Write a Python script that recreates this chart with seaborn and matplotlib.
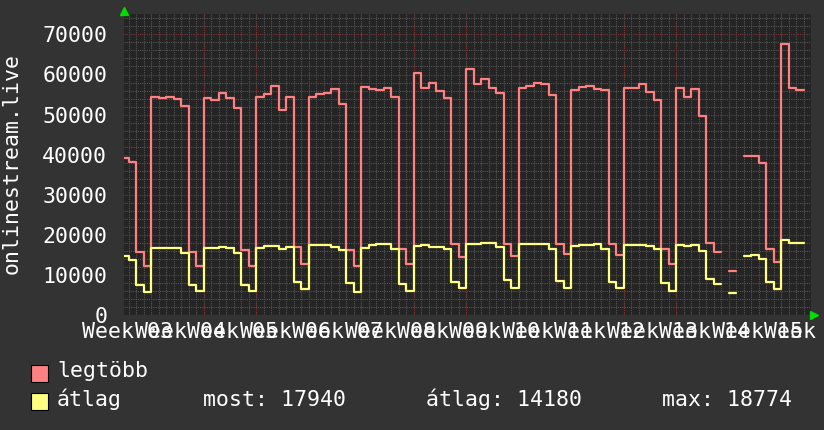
import numpy as np
import pandas as pd
import matplotlib.pyplot as plt
import seaborn as sns
from matplotlib.patches import Rectangle

# napi adatok, az első nap (-4) a grafikon bal szélén csak részben látszik
start_day = -4
legtobb = [39210, 38130, 15800, 12320,
           54510, 54180, 54350, 53850, 52200, 15800, 12320,
           54020, 53690, 55510, 54020, 51620, 16380, 12320,
           54430, 55090, 57080, 51200, 54430, 17040, 12740,
           54270, 55090, 55510, 56330, 52610, 16380, 12320,
           56910, 56500, 56250, 56750, 54270, 16620, 12740,
           60470, 56750, 57990, 55920, 54100, 17700, 14560,
           61300, 57740, 58980, 56750, 55510, 17700, 14720,
           56750, 57160, 57990, 57580, 54850, 17700, 15380,
           56250, 56910, 57240, 56330, 56250, 17780, 14970,
           56580, 56750, 57740, 55750, 53770, 16620, 12740,
           56580, 54430, 56330, 49630, 18110, 15800, None,
           11080, None, 39620, 39620, 37890, 16620, 13310,
           67670, 56750, 56170]
atlag = [14800, 13810, 7520, 5790,
         16870, 16870, 16710, 16710, 15630, 7520, 6030,
         16710, 16710, 17040, 16710, 15630, 7520, 6030,
         16870, 17200, 17290, 16540, 17040, 8350, 6610,
         17450, 17450, 17450, 17040, 16380, 7940, 5790,
         16870, 17450, 17700, 17700, 16620, 7770, 6030,
         17290, 17450, 17040, 17040, 16540, 8270, 6860,
         17700, 17860, 18030, 18030, 17040, 8760, 6860,
         17700, 17700, 17700, 17700, 16620, 8520, 6860,
         17290, 17530, 17530, 17780, 16620, 8350, 6860,
         17620, 17620, 17620, 17200, 16620, 8100, 6030,
         17620, 17290, 17620, 16040, 8930, 7770, None,
         5620, None, 14800, 15130, 14140, 8350, 6610,
         18774, 18030, 17940]
week_labels = ['Week %02d' % w for w in range(3, 17)]
stats = ['most: 17940', 'átlag: 14180', 'max: 18774']

RED = '#ff8080'
YELLOW = '#ffff80'
FS = 15.5


def to_steps(vals):
    # összefüggő szakaszokra bontás, a szakasz végén lezáró ponttal
    rows = []
    seg = 0
    prev = None
    day = start_day
    for v in vals:
        if v is None:
            if prev is not None:
                rows.append((day, prev, seg))
                seg += 1
            prev = None
        else:
            rows.append((day, v, seg))
            prev = v
        day += 1
    if prev is not None:
        rows.append((day, prev, seg))
    return pd.DataFrame(rows, columns=['day', 'value', 'seg'])


sns.set_theme(style='dark')
plt.rcParams['font.family'] = ['DejaVu Sans Mono']

fig = plt.figure(figsize=(8.24, 4.30), dpi=100, facecolor='#333333')
ax = fig.add_axes([124 / 824, 1 - 315.3 / 430, 686.5 / 824, 301 / 430])
ax.set_facecolor('#242424')

sns.lineplot(data=to_steps(legtobb), x='day', y='value', units='seg', estimator=None,
             drawstyle='steps-post', color=RED, linewidth=1.6, ax=ax, legend=False)
sns.lineplot(data=to_steps(atlag), x='day', y='value', units='seg', estimator=None,
             drawstyle='steps-post', color=YELLOW, linewidth=1.6, ax=ax, legend=False)

ax.set_xlim(-3.64, 87.9)
ax.set_ylim(0, 75000)

# rács: napi / 2000-es szürke, heti / 10000-es piros
ax.set_xticks(np.arange(-3, 88), minor=True)
ax.set_yticks(np.arange(0, 75001, 2000), minor=True)
ax.grid(which='minor', color='#555555', linestyle=(0, (1, 1)), linewidth=0.8)
for d in range(0, 88, 7):
    ax.axvline(d, color='#7a3535', linestyle=(0, (1, 1)), linewidth=0.8, zorder=1)
ax.set_yticks(np.arange(0, 70001, 10000))
ax.yaxis.grid(True, which='major', color='#7a3535', linestyle=(0, (1, 1)), linewidth=0.8)
ax.xaxis.grid(False, which='major')
ax.set_axisbelow(True)

ax.set_xticks([-3.17 + 7 * i for i in range(len(week_labels))])
ax.set_xticklabels(week_labels)
ax.tick_params(axis='x', which='both', length=0, pad=5, labelsize=FS, labelcolor='white')
ax.tick_params(axis='y', which='both', length=0, pad=12, labelsize=FS, labelcolor='white')
ax.set_xlabel('')
ax.set_ylabel('')
for s in ax.spines.values():
    s.set_visible(False)

fig.text(12 / 824, 1 - 164 / 430, 'onlinestream.live', rotation=90, ha='center',
         va='center', color='white', fontsize=FS)

# zöld nyilak a tengelyek végén
ax.plot([0], [1.012], marker='^', color='#00dd00', markersize=6, transform=ax.transAxes,
        clip_on=False)
ax.plot([1.0044], [0], marker='>', color='#00dd00', markersize=6, transform=ax.transAxes,
        clip_on=False)

# jelmagyarázat
fig.patches.append(Rectangle((31 / 824, 1 - 382 / 430), 17 / 824, 17 / 430, facecolor=RED,
                             edgecolor='black', linewidth=0.8, transform=fig.transFigure))
fig.patches.append(Rectangle((31 / 824, 1 - 410 / 430), 17 / 824, 17 / 430, facecolor=YELLOW,
                             edgecolor='black', linewidth=0.8, transform=fig.transFigure))
fig.text(57 / 824, 1 - 377 / 430, 'legtöbb', color='white', fontsize=FS, va='baseline')
fig.text(57 / 824, 1 - 406 / 430, 'átlag', color='white', fontsize=FS, va='baseline')
for x, s in zip([203, 426, 662], stats):
    fig.text(x / 824, 1 - 406 / 430, s, color='white', fontsize=FS, va='baseline')

fig.savefig('out.png', dpi=100, facecolor=fig.get_facecolor())
